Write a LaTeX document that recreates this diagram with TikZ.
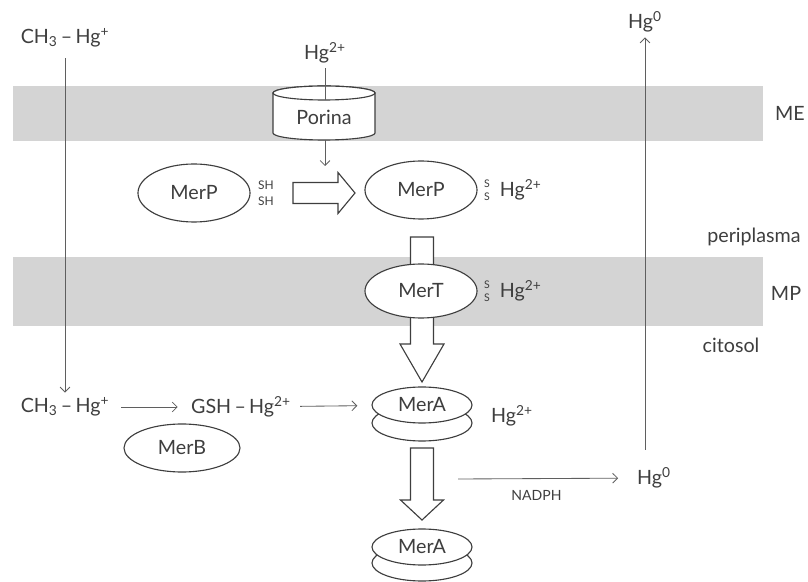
\documentclass[tikz,border=0pt]{standalone}
\usepackage{fontspec}
\setmainfont{Lato}
\usetikzlibrary{arrows.meta,shapes.geometric}
\definecolor{band}{RGB}{212,212,212}
\definecolor{ink}{RGB}{62,62,62}
\definecolor{wire}{RGB}{95,95,95}

\begin{document}
\begin{tikzpicture}[x=0.025cm, y=-0.025cm, every node/.style={font=\fontsize{14}{17}\selectfont, text=ink}]
    \tikzset{
        prot/.style={draw=ink,ellipse,fill=white,line width=0.8pt,minimum width=2.8cm,minimum height=1.45cm,inner sep=0pt},
        disc/.style={draw=ink,ellipse,fill=white,line width=0.8pt,minimum width=2.5cm,minimum height=0.9cm,inner sep=0pt},
        fat/.style={draw=ink,fill=white,line width=0.8pt,line join=miter},
        conn/.style={draw=wire,line width=0.6pt,-{Straight Barb[length=3.5pt,width=7pt]}},
        thiol/.style={font=\fontsize{8.5}{10}\selectfont,align=center,inner sep=0pt},
        sulf/.style={font=\fontsize{7.5}{9}\selectfont,align=center,inner sep=0pt},
        pics/fatarrow/.style n args={4}{code={
            \draw[fat] (0,-#2) -- (#1-#4,-#2) -- (#1-#4,-#3) -- (#1,0)
                -- (#1-#4,#3) -- (#1-#4,#2) -- (0,#2) -- cycle;}}
    }
    \useasboundingbox (0,0) rectangle (808,582);
    % membranes
    \fill[band] (13,86) rectangle (763,141);
    \fill[band] (13,257) rectangle (763,326);
    \node (me) at (790,113) {ME};
    \node (peri) at (754,237) {periplasma};
    \node (mp) at (786,293) {MP};
    \node (cito) at (731,345) {citosol};

    % organomercurial route
    \node (ch3top) at (65,38) {CH\textsubscript{3}\,–\,Hg\textsuperscript{+}};
    \node (ch3bot) at (65,407) {CH\textsubscript{3}\,–\,Hg\textsuperscript{+}};
    \node (gsh) at (241,407) {GSH\,–\,Hg\textsuperscript{2+}};
    \node[prot,minimum width=2.9cm,minimum height=1.2cm] (merb) at (182,448) {MerB};
    \draw[conn,shorten <=4pt] (ch3top) -- (ch3bot);
    \draw[conn,shorten <=5pt,shorten >=6pt] (ch3bot) -- (gsh);

    % volatile Hg0
    \coordinate (hgup) at (645,450);
    \node (hg0top) at (645,22) {Hg\textsuperscript{0}};
    \node (hg0low) at (654,478) {Hg\textsuperscript{0}};
    \draw[conn] (hgup) -- (hg0top);
    \coordinate (nadph) at (458,479);
    \draw[conn,shorten >=10pt] (nadph) -- (hg0low)
        node[pos=0.45,below=5pt,font=\fontsize{10}{11}\selectfont] {NADPH};

    % porin
    \node (hg2top) at (325,53) {Hg\textsuperscript{2+}};
    \draw[fat] (273,93) -- (273,133) arc[start angle=180,end angle=0,x radius=51,y radius=7]
        -- (375,93) arc[start angle=0,end angle=-180,x radius=51,y radius=7] -- cycle;
    \draw[fat] (324,93) ellipse [x radius=51,y radius=7];
    \node (porina) at (324,117) {Porina};
    \coordinate (porin top) at (325,100);
    \coordinate (porin out) at (325,140);
    \coordinate (merp in) at (325,166);
    \draw[draw=wire,line width=0.6pt] (hg2top) -- (porin top);
    \draw[conn] (porin out) -- (merp in);

    % fat arrows
    \pic at (293,193) {fatarrow={62}{10.5}{20.5}{17}};
    \pic[rotate=-90] at (422,237) {fatarrow={145}{11.5}{22}{38}};
    \pic[rotate=-90] at (422,448) {fatarrow={72}{11.5}{21.5}{20}};

    % MerP / MerT
    \node[prot] (merp1) at (194,193) {MerP};
    \node[thiol] (sh) at (266,193) {SH\\[1pt]SH};
    \node[prot] (merp2) at (421,190) {MerP};
    \node[sulf] (s1) at (487,190) {S\\S};
    \node[anchor=west] (hg2p) at (495,190) {Hg\textsuperscript{2+}};
    \node[prot,minimum height=1.35cm] (mert) at (421,291) {MerT};
    \node[sulf] (s2) at (487,291) {S\\S};
    \node[anchor=west] (hg2t) at (495,291) {Hg\textsuperscript{2+}};

    % MerA
    \node[disc] (mera1b) at (422,423) {};
    \node[disc] (mera1) at (422,405) {MerA};
    \node (hg2a) at (512,416) {Hg\textsuperscript{2+}};
    \draw[conn,shorten <=3pt,shorten >=10pt] (gsh) -- (mera1);
    \node[disc] (mera2b) at (422,563) {};
    \node[disc] (mera2) at (422,547) {MerA};
\end{tikzpicture}
\end{document}
